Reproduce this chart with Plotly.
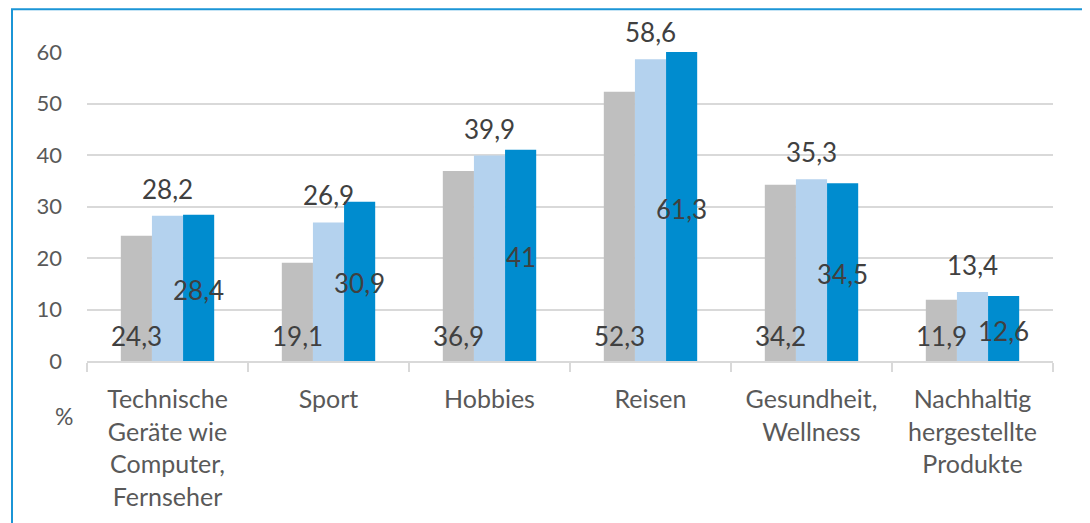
import plotly.graph_objects as go

categories = ["Technische<br>Geräte wie<br>Computer,<br>Fernseher", "Sport", "Hobbies", "Reisen",
              "Gesundheit,<br>Wellness", "Nachhaltig<br>hergestellte<br>Produkte"]
series_grey = [24.3, 19.1, 36.9, 52.3, 34.2, 11.9]
series_light = [28.2, 26.9, 39.9, 58.6, 35.3, 13.4]
series_blue = [28.4, 30.9, 41.0, 61.3, 34.5, 12.6]
y_ticks = [0, 10, 20, 30, 40, 50, 60]

YMAX = 60
W, H = 1082, 515
L, R, T, B = 79, 37, 44, 160
FONT = "Lato"
LABEL_COLOR = "#404040"
AXIS_COLOR = "#595959"
GRID = "#D9D9D9"
PW, PH = W - L - R, H - T - B


def fmt(v):
    return ("%g" % v).replace(".", ",")


def px_x(px):
    return (px - L) / PW


def px_y(py):
    return (H - B - py) / PH


fig = go.Figure()
colors = ["#BFBFBF", "#B4D2EE", "#008CCF"]
for vals, col in zip([series_grey, series_light, series_blue], colors):
    fig.add_trace(go.Bar(x=categories, y=vals, marker=dict(color=col, line=dict(width=0)),
                         hoverinfo="skip", showlegend=False))

cat_w = PW / len(categories)
bargap = 0.42
bar_w = cat_w * (1 - bargap) / 3
lab_font = dict(family=FONT, size=26, color=LABEL_COLOR)

ann = []
for i, c in enumerate(categories):
    ann.append(dict(x=c, y=0, xref="x", yref="y", text=fmt(series_grey[i]), showarrow=False,
                    xshift=-bar_w, yshift=25, yanchor="middle", font=lab_font))
    ann.append(dict(x=c, y=min(series_light[i], YMAX), xref="x", yref="y", text=fmt(series_light[i]),
                    showarrow=False, yshift=27, yanchor="middle", font=lab_font))
    ann.append(dict(x=c, y=min(series_blue[i], YMAX) / 2, xref="x", yref="y", text=fmt(series_blue[i]),
                    showarrow=False, xshift=bar_w, yshift=-2, yanchor="middle", font=lab_font))

ann.append(dict(x=px_x(56), y=px_y(410), xref="paper", yref="paper", text="%", showarrow=False,
                xanchor="center", yanchor="middle", font=dict(family=FONT, size=23, color=AXIS_COLOR)))

fig.update_layout(
    width=W, height=H,
    margin=dict(l=L, r=R, t=T, b=B, pad=0),
    paper_bgcolor="white", plot_bgcolor="white",
    barmode="group", bargap=bargap, bargroupgap=0,
    annotations=ann,
    font=dict(family=FONT, color=AXIS_COLOR),
    shapes=[dict(type="rect", xref="paper", yref="paper",
                 x0=px_x(4), x1=px_x(1080), y0=px_y(540), y1=px_y(1),
                 line=dict(color="#1B95D6", width=2), fillcolor="rgba(0,0,0,0)", layer="below")],
)
fig.update_xaxes(
    showline=True, linecolor=GRID, linewidth=2,
    ticks="outside", tickson="boundaries", ticklen=9, tickcolor=GRID, tickwidth=2,
    tickfont=dict(family=FONT, size=25, color=AXIS_COLOR),
    showgrid=False, ticklabelstandoff=15,
)
fig.update_yaxes(
    range=[0, YMAX], tickvals=y_ticks, ticktext=[str(t) for t in y_ticks],
    showgrid=True, gridcolor=GRID, gridwidth=1.5,
    zeroline=False, showline=False,
    tickfont=dict(family=FONT, size=22, color=AXIS_COLOR),
    ticklabelstandoff=24,
)

fig.write_html("out.html")
